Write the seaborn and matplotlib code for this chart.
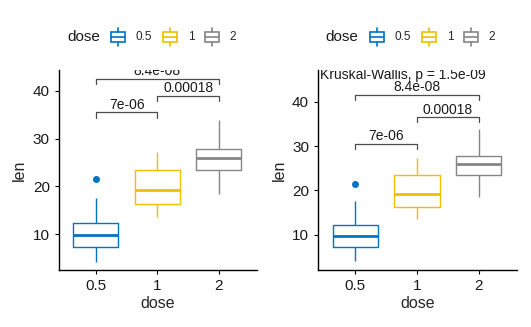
import matplotlib
matplotlib.use("Agg")
import matplotlib.pyplot as plt
import seaborn as sns
import pandas as pd
from matplotlib.legend_handler import HandlerBase
from matplotlib.patches import Rectangle, Patch
from matplotlib.lines import Line2D
from matplotlib.transforms import blended_transform_factory

# ToothGrowth len by dose
len_05 = [4.2, 11.5, 7.3, 5.8, 6.4, 10.0, 11.2, 11.2, 5.2, 7.0,
          15.2, 21.5, 17.6, 9.7, 14.5, 10.0, 8.2, 9.4, 16.5, 9.7]
len_1 = [16.5, 16.5, 15.2, 17.3, 22.5, 17.3, 13.6, 14.5, 18.8, 15.5,
         19.7, 23.3, 23.6, 26.4, 20.0, 25.2, 25.8, 21.2, 14.5, 27.3]
len_2 = [23.6, 18.5, 33.9, 25.5, 26.4, 32.5, 26.7, 21.5, 23.3, 29.5,
         25.5, 26.4, 22.4, 24.5, 24.8, 30.9, 26.4, 27.3, 29.4, 23.0]
doses = ["0.5", "1", "2"]
colors = ["#0073C2", "#EFC000", "#868686"]

comparisons = [("0.5", "1", "7e-06"), ("1", "2", "0.00018"), ("0.5", "2", "8.4e-08")]
bracket_y_left = [35.5, 39.0, 42.5]
bracket_y_right = [30.5, 36.5, 41.5]
kruskal_label = "Kruskal-Wallis, p = 1.5e-09"

df = pd.DataFrame({
    "dose": ["0.5"] * len(len_05) + ["1"] * len(len_1) + ["2"] * len(len_2),
    "len": len_05 + len_1 + len_2,
})

sns.set_style("ticks")
plt.rcParams["font.family"] = ["Liberation Sans", "DejaVu Sans"]

fig = plt.figure(figsize=(5.31, 3.27), dpi=100)
ax1 = fig.add_axes([0.111, 0.174, 0.373, 0.612])
ax2 = fig.add_axes([0.599, 0.174, 0.375, 0.612])


class BoxHandler(HandlerBase):
    def create_artists(self, legend, orig_handle, xdescent, ydescent,
                       width, height, fontsize, trans):
        c = orig_handle.get_edgecolor()
        x0, y0 = -xdescent, -ydescent
        bw, bh = width, height
        rect = Rectangle((x0, y0 + 0.22 * bh), bw, 0.56 * bh, facecolor="none",
                         edgecolor=c, lw=1.2, transform=trans)
        med = Line2D([x0, x0 + bw], [y0 + 0.5 * bh] * 2, color=c, lw=1.2, transform=trans)
        w1 = Line2D([x0 + bw / 2] * 2, [y0, y0 + 0.22 * bh], color=c, lw=1.2, transform=trans)
        w2 = Line2D([x0 + bw / 2] * 2, [y0 + 0.78 * bh, y0 + bh], color=c, lw=1.2, transform=trans)
        return [rect, med, w1, w2]


def draw(ax, ylim, brackets_y, kruskal=False):
    sns.boxplot(data=df, x="dose", y="len", hue="dose", order=doses, hue_order=doses,
                palette=colors, fill=False, width=0.73, gap=0, dodge=False,
                linewidth=1.0, showcaps=False, legend=False, ax=ax,
                medianprops={"linewidth": 2.0},
                flierprops={"marker": "o", "markersize": 4})
    for ln in ax.lines:
        if ln.get_marker() == "o":
            ln.set_markerfacecolor(ln.get_markeredgecolor())
    ax.set_xlim(-0.6, 2.62)
    ax.set_ylim(*ylim)
    ax.set_yticks([10, 20, 30, 40])
    for side in ["top", "right"]:
        ax.spines[side].set_visible(False)
    for side in ["left", "bottom"]:
        ax.spines[side].set_linewidth(1.0)
        ax.spines[side].set_color("black")
    ax.tick_params(axis="both", labelsize=11, length=3, width=0.8, colors="black",
                   labelcolor="#1a1a1a")
    ax.set_xlabel("dose", fontsize=11.5, labelpad=2)
    ax.set_ylabel("len", fontsize=11.5, labelpad=4)
    pos = {d: i for i, d in enumerate(doses)}
    span = ylim[1] - ylim[0]
    drop = span * 0.026
    for (g1, g2, lab), yb in zip(comparisons, brackets_y):
        x1, x2 = pos[g1], pos[g2]
        ax.plot([x1, x1, x2, x2], [yb - drop, yb, yb, yb - drop], color="#4d4d4d",
                lw=0.9, clip_on=True)
        ax.text((x1 + x2) / 2, yb + span * 0.003, lab, ha="center", va="bottom",
                fontsize=10, color="#1a1a1a", clip_on=True)
    if kruskal:
        ax.text(0.01, 46.0, kruskal_label,
                transform=blended_transform_factory(ax.transAxes, ax.transData),
                ha="left", va="center", fontsize=10, color="#1a1a1a", clip_on=True)


draw(ax1, (2.45, 44.4), bracket_y_left)
draw(ax2, (2.1, 47.1), bracket_y_right, kruskal=True)

handles = [Patch(edgecolor=c, facecolor="none") for c in colors]
for xt, xl in [(0.126, 0.209), (0.612, 0.697)]:
    fig.text(xt, 0.888, "dose", fontsize=11, ha="left", va="center", color="#1a1a1a")
    fig.legend(handles, doses, loc="center left", bbox_to_anchor=(xl, 0.888),
               ncol=3, frameon=False, fontsize=8.5, handlelength=1.2,
               handleheight=2.0, handletextpad=0.9, columnspacing=0.9,
               handler_map={Patch: BoxHandler()}, borderpad=0, borderaxespad=0)

fig.savefig("out.png", dpi=100)
